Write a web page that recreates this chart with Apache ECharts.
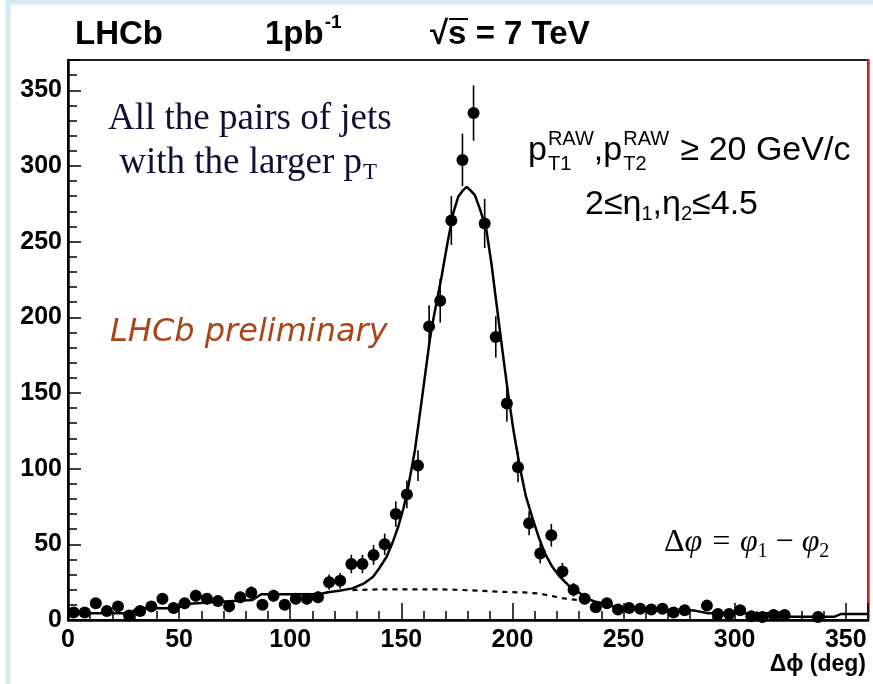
<!DOCTYPE html>
<html>
<head>
<meta charset="utf-8">
<script src="https://cdn.jsdelivr.net/npm/echarts@6/dist/echarts.min.js"></script>
<style>
html,body{margin:0;padding:0;background:#fff;}
#chart{width:873px;height:684px;}
</style>
</head>
<body>
<div id="chart"></div>
<script>
// ---- Data ----
const binCenters = [2.5,7.5,12.5,17.5,22.5,27.5,32.5,37.5,42.5,47.5,52.5,57.5,62.5,67.5,72.5,77.5,82.5,87.5,92.5,97.5,
  102.5,107.5,112.5,117.5,122.5,127.5,132.5,137.5,142.5,147.5,152.5,157.5,162.5,167.5,172.5,177.5,182.5,187.5,192.5,197.5,
  202.5,207.5,212.5,217.5,222.5,227.5,232.5,237.5,242.5,247.5,252.5,257.5,262.5,267.5,272.5,277.5,282.5,287.5,292.5,297.5,
  302.5,307.5,312.5,317.5,322.5,327.5,332.5,337.5,342.5,347.5,352.5,357.5];
const counts = [5,5,11,6,9,3,6,9,14,8,11,16,14,12.5,9,15,18,10,16,10,
  14,14,15,25,26,37,37,43,50,70,83,102,194,211,264,304,335,262,187,143,
  101,64,44,56,32,20,14,8.5,11,7,8,7.5,7,7.5,5,6.5,null,9.5,4,4,
  6.5,2.5,2,3.3,3.3,null,null,2,null,null,null,null];
const errors = [2.2,2.2,3.3,2.4,3,1.7,2.4,3,3.7,2.8,3.3,4,3.7,3.5,3,3.9,4.2,3.2,4,3.2,
  3.7,3.7,3.9,5,5.1,6.1,6.1,6.6,7.1,8.4,9.1,10.1,13.9,14.5,16.2,17.4,18.3,16.2,13.7,12,
  10,8,6.6,7.5,5.7,4.5,3.7,2.9,3.3,2.6,2.8,2.7,2.6,2.7,2.2,2.5,null,3.1,2,2,
  2.5,1.6,1.4,1.8,1.8,null,null,1.4,null,null,null,null];
// full fit (signal + background)
const fitX = [0,28,31,49,53,68,83,87,113,117,122,128,133,137.3,140,143.4,146,148.6,151,153.1,156.1,159.8,162.8,164.3,168.1,170.5,173.3,175.6,177.5,179.4,
  181,183.1,185.5,188.3,190.5,192.8,195.5,198.1,200.5,203.3,206,209.3,212,214.6,218,221.3,225.8,228.8,233.3,237,240.8,246,252,257.3,262,275,282,288,300,318,322,345,348,360];
const fitY = [4.5,4.5,7.7,7.7,10.6,12,13.2,17,17,18.3,19.3,20.9,24,28.6,34,41.8,51,61.6,74,88,112,152,185,198,226.8,247,268.6,279.6,283.5,286.2,
  284,280.7,271,257.6,236,209.2,178,149,125,101.3,82,66,54,44,35,28.6,22,19.5,14.3,12.2,11,8.8,7.5,6.6,6.6,6.6,6.2,4.4,4.4,4.4,2.2,2.2,4,4];
// background component
const bgX = [128,140,150,165,175,185,195,205,212,218,223,229];
const bgY = [19.8,20.2,20.3,20.3,20,19.3,18.6,18.2,17.5,15.8,14.3,13.3];
const xTicks = [0,50,100,150,200,250,300,350];
const yTicks = [0,50,100,150,200,250,300,350];

// ---- Build options ----
const pts = [], errPts = [];
binCenters.forEach((c,i)=>{
  if (counts[i] !== null) { pts.push([c, counts[i]]); errPts.push([c, counts[i], errors[i]]); }
});
const SANS = '"Liberation Sans", Arial, sans-serif';
const SERIF = '"Liberation Serif", "Times New Roman", serif';
const lbl = {color:'#000', fontFamily:SANS, fontWeight:'bold', fontSize:25};

// text run layout helper (pieces placed left to right, widths measured;
// a 'stack' piece shares its x with the next piece, advance = max width)
const mctx = document.createElement('canvas').getContext('2d');
function run(x, y, pieces, fill){
  const els = [];
  let cx = x, pending = 0;
  pieces.forEach(p=>{
    mctx.font = p.font;
    const w = mctx.measureText(p.t).width;
    els.push({type:'text', x:cx + (p.dx||0), y:y + (p.dy||0),
      style:{text:p.t, font:p.font, fill:fill, textVerticalAlign:'middle'}});
    if (p.stack) { pending = w + (p.dx||0); }
    else { cx += Math.max(w + (p.dx||0), pending); pending = 0; }
  });
  return els;
}

const chart = echarts.init(document.getElementById('chart'), null, {renderer:'canvas'});
const S34 = '34px '+SANS, S20 = '20px '+SANS;
const M31 = 'italic 32px '+SERIF, M19 = '20px '+SERIF;
let graphics = [
  {type:'rect', shape:{x:8, y:2, width:900, height:720}, style:{fill:'none', stroke:'#d2eaf0', lineWidth:5}, silent:true},
  {type:'text', x:75, y:35, style:{text:'LHCb', font:'bold 33px '+SANS, fill:'#000', textVerticalAlign:'middle'}},
  {type:'text', x:430, y:35, style:{text:'\u221As = 7 TeV', font:'bold 33px '+SANS, fill:'#000', textVerticalAlign:'middle'}},
  {type:'line', shape:{x1:449, y1:19, x2:468, y2:19}, style:{stroke:'#000', lineWidth:2}},
  {type:'text', x:108, y:119, style:{text:'All the pairs of jets', font:'37px '+SERIF, fill:'#0b1233', textVerticalAlign:'middle'}},
  {type:'text', x:362, y:163, style:{text:'with the larger p', font:'37px '+SERIF, fill:'#0b1233', textAlign:'right', textVerticalAlign:'middle'}},
  {type:'text', x:363, y:173, style:{text:'T', font:'23px '+SERIF, fill:'#0b1233', textVerticalAlign:'middle'}},
  {type:'text', x:110, y:333, style:{text:'LHCb preliminary', font:'italic 32px "DejaVu Sans", Verdana, sans-serif', fill:'#a8461a', textVerticalAlign:'middle'}},
  {type:'text', x:866, y:665, style:{text:'\u0394\u03D5 (deg)', font:'bold 23px '+SANS, fill:'#000', textAlign:'right', textVerticalAlign:'middle'}}
];
graphics = graphics.concat(
  run(265, 35, [{t:'1pb', font:'bold 33px '+SANS}, {t:'-1', font:'bold 19px '+SANS, dy:-12, dx:1}], '#000'),
  run(528, 151, [
    {t:'p', font:S34}, {t:'RAW', font:S20, dy:-12, stack:true, dx:1}, {t:'T1', font:S20, dy:13, dx:1},
    {t:',p', font:S34}, {t:'RAW', font:S20, dy:-12, stack:true, dx:1}, {t:'T2', font:S20, dy:13, dx:1},
    {t:' \u2265 20 GeV/c', font:S34, dx:2}
  ], '#000'),
  run(585, 205, [
    {t:'2\u2264\u03B7', font:S34}, {t:'1', font:S20, dy:9}, {t:',\u03B7', font:S34}, {t:'2', font:S20, dy:9}, {t:'\u22644.5', font:S34}
  ], '#000'),
  run(664, 543, [
    {t:'\u0394', font:'32px '+SERIF}, {t:'\u03C6 = \u03C6', font:M31}, {t:'1', font:M19, dy:9}, {t:' \u2212 ', font:'32px '+SERIF}, {t:'\u03C6', font:M31}, {t:'2', font:M19, dy:9}
  ], '#000')
);

const option = {
  animation:false,
  backgroundColor:'#fff',
  grid:{left:68, top:60, right:5, bottom:64, show:true, borderColor:'#222', borderWidth:2, backgroundColor:'transparent'},
  xAxis:[
    {type:'value', min:0, max:360, interval:50, position:'bottom',
     axisLine:{show:true, lineStyle:{color:'#000', width:2.5}},
     axisTick:{show:true, inside:true, length:17, lineStyle:{color:'#000', width:1.5}},
     axisLabel:Object.assign({margin:8, formatter:v=> xTicks.indexOf(v)>=0 ? String(v) : ''}, lbl),
     splitLine:{show:false}},
    {type:'value', min:0, max:360, interval:10, position:'bottom',
     axisLine:{show:false}, axisLabel:{show:false}, splitLine:{show:false},
     axisTick:{show:true, inside:true, length:9, lineStyle:{color:'#000', width:1.5}}}
  ],
  yAxis:[
    {type:'value', min:0, max:370, interval:50, position:'left',
     axisLine:{show:true, lineStyle:{color:'#000', width:2.5}},
     axisTick:{show:true, inside:true, length:13, lineStyle:{color:'#000', width:1.5}},
     axisLabel:Object.assign({margin:6, formatter:v=> yTicks.indexOf(v)>=0 ? String(v) : ''}, lbl),
     splitLine:{show:false}},
    {type:'value', min:0, max:370, interval:10, position:'left',
     axisLine:{show:false}, axisLabel:{show:false}, splitLine:{show:false},
     axisTick:{show:true, inside:true, length:9, lineStyle:{color:'#000', width:1.5}}},
    {type:'value', min:0, max:370, position:'right',
     axisLine:{show:true, lineStyle:{color:'#d42a22', width:2.5}},
     axisTick:{show:false}, axisLabel:{show:false}, splitLine:{show:false}}
  ],
  series:[
    {type:'line', name:'background', data:bgX.map((x,i)=>[x,bgY[i]]), showSymbol:false, symbol:'none',
     lineStyle:{color:'#000', width:2.2, type:[5,5]}, z:3},
    {type:'line', name:'fit', data:fitX.map((x,i)=>[x,fitY[i]]), showSymbol:false, symbol:'none',
     lineStyle:{color:'#000', width:2.5}, z:3},
    {type:'custom', name:'errors', data:errPts, z:4,
     renderItem:function(params, api){
       const x = api.value(0), y = api.value(1), e = api.value(2);
       const p1 = api.coord([x, y - e]), p2 = api.coord([x, y + e]);
       return {type:'line', shape:{x1:p1[0], y1:p1[1], x2:p2[0], y2:p2[1]},
               style:{stroke:'#000', lineWidth:1.6}};
     }},
    {type:'scatter', name:'data', data:pts, symbol:'circle', symbolSize:12,
     itemStyle:{color:'#000', opacity:1}, z:5}
  ],
  graphic:graphics
};
chart.setOption(option);
</script>
</body>
</html>
